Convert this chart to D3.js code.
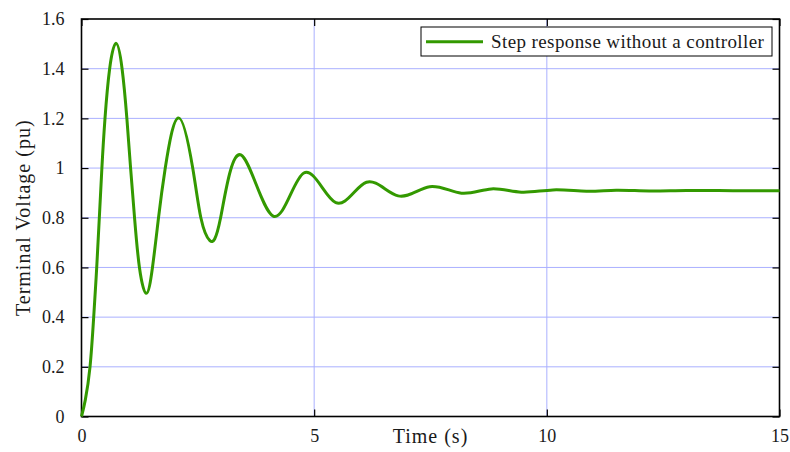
<!DOCTYPE html>
<html>
<head>
<meta charset="utf-8">
<script src="https://cdnjs.cloudflare.com/ajax/libs/d3/7.8.5/d3.min.js"></script>
<style>
  body { margin: 0; background: #fff; }
  svg text { font-family: "Liberation Serif", "DejaVu Serif", serif; fill: #1a1a1a; }
</style>
</head>
<body>
<svg id="chart" width="790" height="452"></svg>
<script>
// values
var timeValues = [0, 0.082, 0.183, 0.262, 0.327, 0.383, 0.438, 0.505, 0.605, 0.741, 0.872, 0.975, 1.055, 1.14, 1.245, 1.392,
                  1.525, 1.655, 1.80, 2.083, 2.39, 2.565, 2.759, 2.989, 3.425, 4.119, 4.778, 5.465,
                  6.124, 6.804, 7.483, 8.164, 8.808, 9.452, 10.13, 10.85, 11.49, 12.2, 13.0, 14.0, 15.0];
var voltageValues = [0, 0.067, 0.2, 0.4, 0.6, 0.8, 1.0, 1.2, 1.4, 1.502, 1.4, 1.2, 1.0, 0.8, 0.6, 0.496,
                     0.6, 0.8, 1.0, 1.202, 1.0, 0.8, 0.708, 0.8, 1.053, 0.807, 0.980, 0.861,
                     0.943, 0.888, 0.925, 0.899, 0.916, 0.903, 0.912, 0.907, 0.911, 0.908, 0.910, 0.909, 0.909];
var xTicks = [0, 5, 10, 15];
var yTicks = [0, 0.2, 0.4, 0.6, 0.8, 1, 1.2, 1.4, 1.6];
var seriesName = "Step response without a controller";

var svg = d3.select('#chart'),
    margin = {top: 19, right: 10.5, bottom: 35.5, left: 81.5};
var width  = 790 - margin.left - margin.right;
var height = 452 - margin.top - margin.bottom;
var canvas = svg.append("g").attr("transform", "translate(" + margin.left + "," + margin.top + ")");

var x = d3.scaleLinear().domain([0, 15]).range([0, width]);
var y = d3.scaleLinear().domain([0, 1.6]).range([height, 0]);

var data = timeValues.map(function(t, i) { return {t: t, v: voltageValues[i]}; });

// grid
canvas.append("g")
    .selectAll("line")
    .data(yTicks.slice(1, -1))
  .enter().append("line")
    .attr("x1", 0).attr("x2", width)
    .attr("y1", function(d) { return y(d); })
    .attr("y2", function(d) { return y(d); })
    .style("stroke", "#aab0ff").style("stroke-width", 1);

canvas.append("g")
    .selectAll("line")
    .data(xTicks.slice(1, -1))
  .enter().append("line")
    .attr("x1", function(d) { return x(d); })
    .attr("x2", function(d) { return x(d); })
    .attr("y1", 0).attr("y2", height)
    .style("stroke", "#aab0ff").style("stroke-width", 1);

// axes, ticks pointing inward on all four sides
var xAxis = d3.axisBottom(x).tickValues(xTicks).tickSize(-7).tickPadding(16).tickFormat(d3.format("d"));
var yAxis = d3.axisLeft(y).tickValues(yTicks).tickSize(-7).tickPadding(17).tickFormat(function(d) { return d; });

var gx = canvas.append("g")
    .attr("transform", "translate(0," + height + ")")
    .call(xAxis);
var gy = canvas.append("g")
    .call(yAxis);

canvas.append("g")
    .call(d3.axisTop(x).tickValues(xTicks).tickSize(-7).tickFormat(""));
canvas.append("g")
    .attr("transform", "translate(" + width + ",0)")
    .call(d3.axisRight(y).tickValues(yTicks).tickSize(-7).tickFormat(""));

canvas.selectAll(".domain").remove();
canvas.selectAll(".tick line").style("stroke", "#000").style("stroke-width", 1.2);
canvas.selectAll(".tick text").style("font-size", "18px").style("fill", "#1a1a1a");
gx.selectAll(".tick text").attr("dy", "0.5em");

// frame
canvas.append("rect")
    .attr("width", width).attr("height", height)
    .style("fill", "none").style("stroke", "#000").style("stroke-width", 1.6);

// curve
var line = d3.line()
    .x(function(d) { return x(d.t); })
    .y(function(d) { return y(d.v); })
    .curve(d3.curveNatural);

canvas.append("path")
    .datum(data)
    .attr("d", line)
    .style("fill", "none")
    .style("stroke", "#339900")
    .style("stroke-width", 3)
    .style("stroke-linejoin", "round");

// axis labels
svg.append("text")
    .attr("x", margin.left + width / 2)
    .attr("y", 443)
    .attr("text-anchor", "middle")
    .style("font-size", "20px")
    .style("letter-spacing", "1px")
    .text("Time (s)");

svg.append("text")
    .attr("transform", "translate(30," + (margin.top + height / 2) + ") rotate(-90)")
    .attr("text-anchor", "middle")
    .style("font-size", "20px")
    .style("letter-spacing", "1px")
    .text("Terminal Voltage (pu)");

// legend
var legend = svg.append("g").attr("transform", "translate(421,27)");
legend.append("rect")
    .attr("width", 351).attr("height", 29)
    .style("fill", "#fff").style("stroke", "#000").style("stroke-width", 1);
legend.append("line")
    .attr("x1", 5).attr("x2", 62)
    .attr("y1", 14.7).attr("y2", 14.7)
    .style("stroke", "#339900").style("stroke-width", 3);
legend.append("text")
    .attr("x", 70).attr("y", 14.7)
    .attr("dy", "0.35em")
    .style("font-size", "19px")
    .style("letter-spacing", "0.4px")
    .text(seriesName);
</script>
</body>
</html>
